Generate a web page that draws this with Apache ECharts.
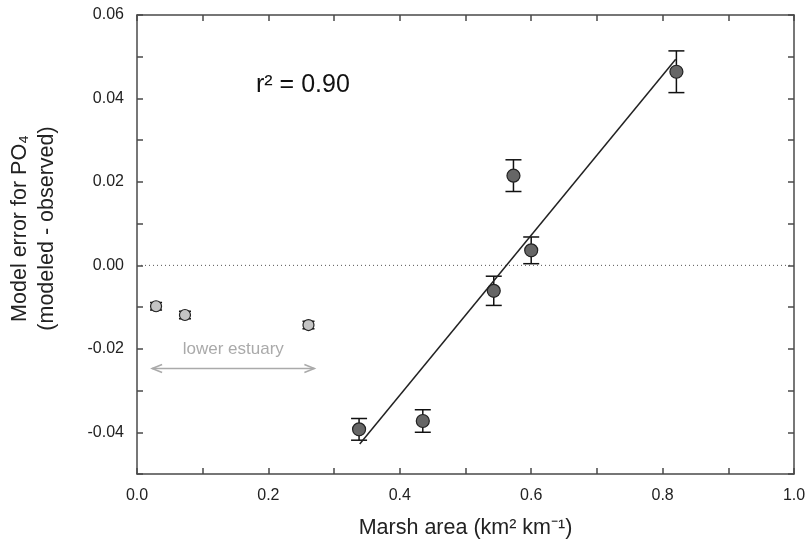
<!DOCTYPE html>
<html>
<head>
<meta charset="utf-8">
<script src="https://cdn.jsdelivr.net/npm/echarts@6/dist/echarts.min.js"></script>
<style>
  html, body { margin: 0; padding: 0; background: #fff; }
  #chart { width: 807px; height: 547px; }
</style>
</head>
<body>
<div id="chart"></div>
<script>
// marsh stations (dark points)
const marshX = [0.338, 0.435, 0.543, 0.573, 0.600, 0.821];
const marshY = [-0.0393, -0.0373, -0.0061, 0.0215, 0.0036, 0.0464];
const marshErr = [0.0026, 0.0027, 0.0035, 0.0038, 0.0032, 0.0050];

// lower estuary stations (light points)
const estX = [0.029, 0.073, 0.261];
const estY = [-0.0098, -0.0119, -0.0143];
const estErr = [0.0009, 0.0009, 0.0009];

// regression line
const fitX = [0.339, 0.820];
const fitY = [-0.0428, 0.0494];

// "lower estuary" arrow
const arrowX = [0.023, 0.27];
const arrowY = -0.0247;
const arrowLabelY = -0.0201;

const font = 'Liberation Sans, Arial, sans-serif';

const chart = echarts.init(document.getElementById('chart'));

function errBars(kind) {
  return function (params, api) {
    const x = api.value(0), y = api.value(1), e = api.value(2);
    const top = api.coord([x, y + e]);
    const bot = api.coord([x, y - e]);
    const w = kind === 'dark' ? 8 : 6;
    const st = { stroke: '#111', lineWidth: 1.5 };
    return {
      type: 'group',
      children: [
        { type: 'line', shape: { x1: top[0], y1: top[1], x2: bot[0], y2: bot[1] }, style: st },
        { type: 'line', shape: { x1: top[0] - w, y1: top[1], x2: top[0] + w, y2: top[1] }, style: st },
        { type: 'line', shape: { x1: bot[0] - w, y1: bot[1], x2: bot[0] + w, y2: bot[1] }, style: st }
      ]
    };
  };
}

const axisLine = { onZero: false, lineStyle: { color: '#4a4a4a', width: 1.5 } };
const axisTick = { inside: true, length: 6, lineStyle: { color: '#4a4a4a', width: 1.5 } };

const option = {
  animation: false,
  grid: { left: 137, right: 13, top: 15, bottom: 73, outerBoundsMode: 'none', containLabel: false },
  xAxis: [
    {
      type: 'value', min: 0, max: 1, interval: 0.1,
      name: 'Marsh area (km² km⁻¹)',
      nameLocation: 'middle', nameGap: 43,
      nameTextStyle: { fontFamily: font, fontSize: 21.5, color: '#222' },
      axisLine: axisLine,
      axisTick: axisTick,
      axisLabel: {
        fontFamily: font, fontSize: 16, color: '#222', margin: 14,
        formatter: v => (Math.round(v * 10) % 2 === 0 ? v.toFixed(1) : '')
      },
      splitLine: { show: false }
    },
    {
      type: 'value', min: 0, max: 1, interval: 0.1, position: 'top',
      axisLine: axisLine,
      axisTick: axisTick,
      axisLabel: { show: false },
      splitLine: { show: false }
    }
  ],
  yAxis: [
    {
      type: 'value', min: -0.05, max: 0.06, interval: 0.01,
      name: 'Model error for PO₄\n(modeled - observed)',
      nameLocation: 'middle', nameGap: 76, nameRotate: 90,
      nameTextStyle: { fontFamily: font, fontSize: 21.5, color: '#222', lineHeight: 27, padding: [0, 0, 0, 32] },
      axisLine: axisLine,
      axisTick: axisTick,
      axisLabel: {
        fontFamily: font, fontSize: 16, color: '#222', margin: 13,
        formatter: v => {
          const k = Math.round(v * 100);
          return (k % 2 === 0 && k > -5) ? (k / 100).toFixed(2) : '';
        }
      },
      splitLine: { show: false }
    },
    {
      type: 'value', min: -0.05, max: 0.06, interval: 0.01, position: 'right',
      axisLine: axisLine,
      axisTick: axisTick,
      axisLabel: { show: false },
      splitLine: { show: false }
    }
  ],
  graphic: [
    {
      type: 'text', left: 256, top: 73,
      style: { text: 'r² = 0.90', fontFamily: font, fontSize: 25, fill: '#111' }
    }
  ],
  series: [
    {
      name: 'zero', type: 'line', symbol: 'none', silent: true,
      data: [[0, 0], [1, 0]],
      lineStyle: { color: '#555', width: 1, type: [1, 3] }
    },
    {
      name: 'fit', type: 'line', symbol: 'none', silent: true,
      data: fitX.map((x, i) => [x, fitY[i]]),
      lineStyle: { color: '#222', width: 1.5 }
    },
    {
      name: 'estuary arrow', type: 'custom', silent: true,
      data: [[arrowX[0], arrowX[1], arrowY, arrowLabelY]],
      renderItem: function (params, api) {
        const a = api.coord([api.value(0), api.value(2)]);
        const b = api.coord([api.value(1), api.value(2)]);
        const t = api.coord([(api.value(0) + api.value(1)) / 2, api.value(3)]);
        const st = { stroke: '#aaa', lineWidth: 1.5, fill: null };
        return {
          type: 'group',
          children: [
            { type: 'line', shape: { x1: a[0], y1: a[1], x2: b[0], y2: b[1] }, style: st },
            { type: 'polyline', shape: { points: [[a[0] + 10, a[1] - 4], [a[0], a[1]], [a[0] + 10, a[1] + 4]] }, style: st },
            { type: 'polyline', shape: { points: [[b[0] - 10, b[1] - 4], [b[0], b[1]], [b[0] - 10, b[1] + 4]] }, style: st },
            {
              type: 'text', x: t[0], y: t[1],
              style: { text: 'lower estuary', fontFamily: font, fontSize: 17, fill: '#aaa', align: 'center', verticalAlign: 'middle' }
            }
          ]
        };
      }
    },
    {
      name: 'estuary err', type: 'custom', silent: true,
      data: estX.map((x, i) => [x, estY[i], estErr[i]]),
      renderItem: errBars('light')
    },
    {
      name: 'marsh err', type: 'custom', silent: true,
      data: marshX.map((x, i) => [x, marshY[i], marshErr[i]]),
      renderItem: errBars('dark')
    },
    {
      name: 'lower estuary', type: 'scatter', symbol: 'circle', symbolSize: 11,
      data: estX.map((x, i) => [x, estY[i]]),
      itemStyle: { color: '#c4c4c4', borderColor: '#222', borderWidth: 1.2, opacity: 1 }
    },
    {
      name: 'marsh', type: 'scatter', symbol: 'circle', symbolSize: 13,
      data: marshX.map((x, i) => [x, marshY[i]]),
      itemStyle: { color: '#666', borderColor: '#222', borderWidth: 1.2, opacity: 1 }
    }
  ]
};

chart.setOption(option);
</script>
</body>
</html>
